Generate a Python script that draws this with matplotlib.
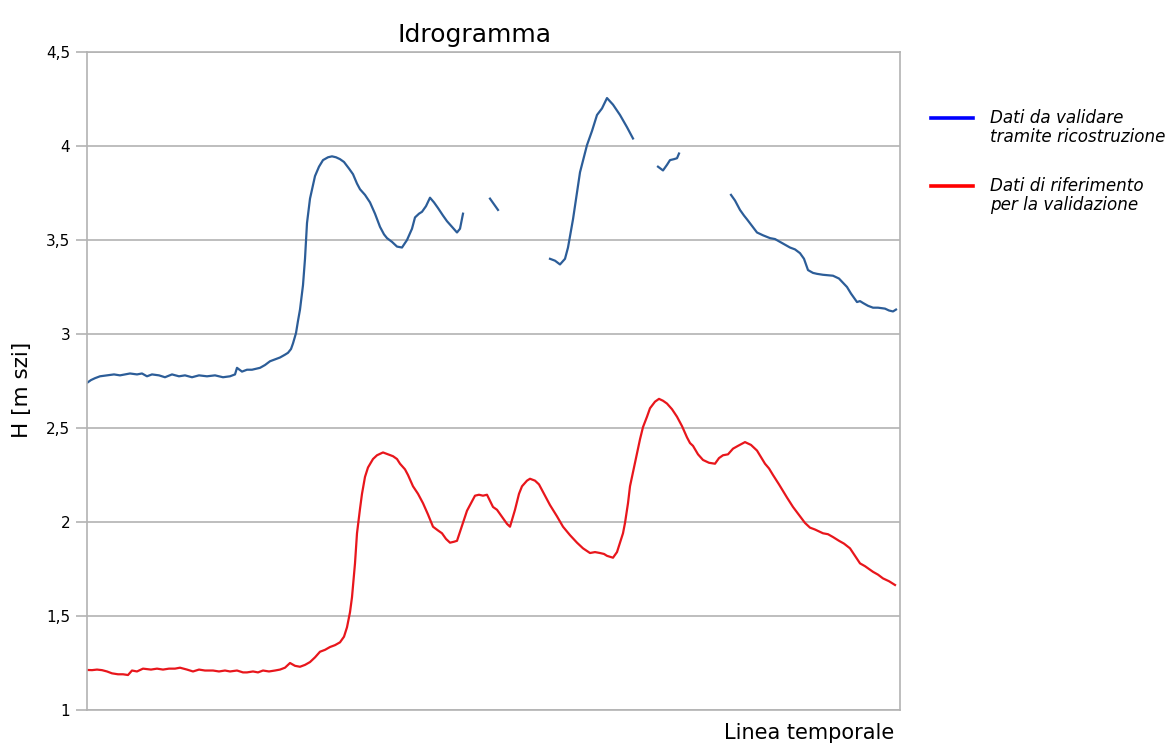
import matplotlib
matplotlib.use("Agg")
import matplotlib.pyplot as plt
from matplotlib.lines import Line2D
from matplotlib.ticker import FuncFormatter
import numpy as np

# time steps (arbitrary units along the time line) and levels H [m szi]
t_blue = [0, 4, 8, 13, 20, 27, 33, 43, 50, 55,
          60, 65, 72, 78, 85, 92, 98, 105, 112, 120,
          128, 136, 143, 148, 150, 155, 160, 165, 173, 178,
          183, 188, 193, 198, 201, 204, 206, 209, 211, 213,
          216, 218, 220, 223, 228, 232, 236, 241, 245, 249,
          253, 257, 262, 266, 270, 273, 278, 283, 288, 293,
          297, 300, 305, 310, 315, 320, 325, 328, 332, 335,
          339, 343, 347, 351, 356, 360, 365, 370, 373, 376,
          403, 411,
          463, 468, 473, 478, 481, 486, 493, 500, 505, 510,
          515, 520, 526, 533, 540, 546,
          571, 576, 580, 583, 587, 590, 592,
          644, 648, 653, 657, 660, 665, 670, 676, 683, 688,
          693, 698, 703, 708, 713, 717, 721, 726, 730, 736,
          746, 752, 760, 764, 770, 773, 776, 781, 786, 791,
          798, 802, 806, 809]
h_blue = [2.74, 2.755, 2.765, 2.775, 2.78, 2.785, 2.78, 2.79, 2.785, 2.79,
          2.775, 2.785, 2.78, 2.77, 2.785, 2.775, 2.78, 2.77, 2.78, 2.775,
          2.78, 2.77, 2.775, 2.785, 2.82, 2.80, 2.81, 2.81, 2.82, 2.835,
          2.855, 2.865, 2.875, 2.89, 2.90, 2.92, 2.95, 3.005, 3.07, 3.13,
          3.26, 3.40, 3.59, 3.72, 3.84, 3.89, 3.925, 3.94, 3.945, 3.94,
          3.93, 3.915, 3.88, 3.85, 3.80, 3.77, 3.74, 3.70, 3.64, 3.57,
          3.53, 3.51, 3.49, 3.465, 3.46, 3.50, 3.56, 3.62, 3.64, 3.65,
          3.68, 3.725, 3.70, 3.67, 3.63, 3.60, 3.57, 3.54, 3.56, 3.64,
          3.72, 3.66,
          3.40, 3.39, 3.37, 3.40, 3.46, 3.61, 3.86, 4.005, 4.08, 4.165,
          4.20, 4.255, 4.22, 4.165, 4.10, 4.04,
          3.89, 3.87, 3.90, 3.925, 3.93, 3.935, 3.96,
          3.74, 3.71, 3.66, 3.63, 3.61, 3.575, 3.54, 3.525, 3.51, 3.505,
          3.49, 3.475, 3.46, 3.45, 3.43, 3.40, 3.34, 3.325, 3.32, 3.315,
          3.31, 3.295, 3.25, 3.215, 3.17, 3.175, 3.165, 3.15, 3.14, 3.14,
          3.135, 3.125, 3.12, 3.13]
# last time step of each blue segment (gaps = missing records)
blue_breaks = [376, 411, 546, 592]

t_red = [0, 5, 10, 15, 20, 25, 31, 36, 41, 45,
         50, 56, 64, 70, 76, 82, 88, 93, 100, 106,
         112, 118, 126, 132, 138, 143, 150, 156, 160, 166,
         171, 176, 182, 188, 193, 198, 203, 208, 213, 218,
         223, 228, 233, 238, 243, 248, 253, 257, 260, 263,
         265, 268, 270, 273, 275, 278, 281, 286, 290, 296,
         301, 306, 310, 313, 318, 321, 326, 331, 336, 341,
         346, 351, 355, 359, 363, 367, 370, 375, 380, 385,
         388, 392, 396, 400, 406, 410, 416, 420, 423, 428,
         432, 435, 440, 443, 448, 452, 455, 460, 463, 470,
         476, 483, 490, 496, 503, 508, 513, 517, 520, 523,
         526, 530, 533, 536, 538, 541, 543, 547, 550, 553,
         556, 560, 563, 568, 572, 576, 580, 585, 590, 595,
         600, 603, 606, 611, 616, 622, 628, 632, 636, 641,
         646, 651, 658, 664, 670, 674, 678, 682, 686, 692,
         700, 706, 713, 718, 723, 728, 736, 741, 746, 752,
         757, 763, 768, 773, 778, 786, 791, 796, 802, 808]
h_red = [1.213, 1.212, 1.215, 1.212, 1.205, 1.195, 1.19, 1.19, 1.186, 1.21,
         1.205, 1.22, 1.215, 1.22, 1.215, 1.22, 1.22, 1.225, 1.215, 1.205,
         1.215, 1.21, 1.21, 1.205, 1.21, 1.205, 1.21, 1.20, 1.20, 1.205,
         1.20, 1.21, 1.205, 1.21, 1.215, 1.225, 1.25, 1.235, 1.23, 1.24,
         1.255, 1.28, 1.31, 1.32, 1.335, 1.345, 1.36, 1.39, 1.44, 1.52,
         1.60, 1.78, 1.94, 2.07, 2.15, 2.24, 2.29, 2.335, 2.355, 2.37,
         2.36, 2.35, 2.335, 2.31, 2.28, 2.25, 2.19, 2.15, 2.10, 2.04,
         1.975, 1.955, 1.94, 1.91, 1.89, 1.895, 1.90, 1.98, 2.06, 2.11,
         2.14, 2.145, 2.14, 2.145, 2.08, 2.065, 2.02, 1.99, 1.975, 2.065,
         2.15, 2.19, 2.22, 2.23, 2.22, 2.20, 2.17, 2.12, 2.09, 2.03,
         1.975, 1.93, 1.89, 1.86, 1.835, 1.84, 1.835, 1.83, 1.82, 1.815,
         1.81, 1.84, 1.89, 1.94, 1.995, 2.10, 2.19, 2.29, 2.365, 2.44,
         2.505, 2.56, 2.605, 2.64, 2.655, 2.645, 2.63, 2.60, 2.56, 2.51,
         2.45, 2.42, 2.405, 2.36, 2.33, 2.315, 2.31, 2.34, 2.355, 2.36,
         2.39, 2.405, 2.425, 2.41, 2.38, 2.345, 2.31, 2.285, 2.25, 2.20,
         2.13, 2.08, 2.03, 1.995, 1.97, 1.96, 1.94, 1.935, 1.92, 1.90,
         1.885, 1.86, 1.82, 1.78, 1.765, 1.735, 1.72, 1.70, 1.685, 1.665]

y_ticks = [1, 1.5, 2, 2.5, 3, 3.5, 4, 4.5]

grid_col = "#b3b3b3"
blue_line = "#2c5d98"
red_line = "#e8161c"

fig = plt.figure(figsize=(11.71, 7.44), dpi=100)
ax = fig.add_axes([87 / 1171, 34 / 744, 813 / 1171, 658 / 744])

# split blue series into its separate segments
tb = np.array(t_blue, dtype=float)
hb = np.array(h_blue, dtype=float)
start = 0
for b in blue_breaks:
    end = int(np.where(tb == b)[0][0]) + 1
    ax.plot(tb[start:end], hb[start:end], color=blue_line, lw=1.6)
    start = end
ax.plot(tb[start:], hb[start:], color=blue_line, lw=1.6)

ax.plot(t_red, h_red, color=red_line, lw=1.6)

ax.set_xlim(0, 813)
ax.set_ylim(1, 4.5)
ax.set_yticks(y_ticks)
ax.yaxis.set_major_formatter(FuncFormatter(lambda v, p: f"{v:g}".replace(".", ",")))
ax.set_xticks([])
ax.grid(axis="y", color=grid_col, lw=1.2)
ax.set_axisbelow(True)
for s in ax.spines.values():
    s.set_color(grid_col)
    s.set_linewidth(1.2)
ax.tick_params(axis="y", length=8, width=1.2, color=grid_col, labelsize=11, pad=4)

ax.set_title("Idrogramma", fontsize=18, pad=7, x=0.477)
ax.set_ylabel("H [m szi]", fontsize=15.5)
ax.yaxis.set_label_coords(-55 / 813, 0.487)
fig.text(894 / 1171, 1 - 733 / 744, "Linea temporale", fontsize=15,
         ha="right", va="center")

# legend, drawn by hand so each handle sits on the first text line
leg_items = [("#0000ff", "Dati da validare\ntramite ricostruzione", 118),
             ("#ff0000", "Dati di riferimento\nper la validazione", 186)]
for col, txt, ypix in leg_items:
    yf = 1 - ypix / 744
    fig.add_artist(Line2D([931 / 1171, 973 / 1171], [yf, yf], color=col,
                          lw=2.6, transform=fig.transFigure))
    fig.text(990 / 1171, 1 - (ypix - 9) / 744, txt, fontsize=12.1,
             style="italic", ha="left", va="top", linespacing=1.1)

fig.savefig("out.png", dpi=100)
